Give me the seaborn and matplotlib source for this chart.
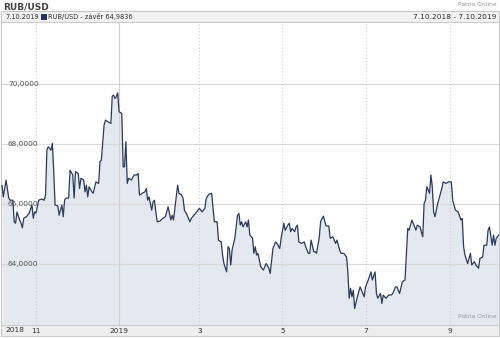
import numpy as np
import pandas as pd
import matplotlib
matplotlib.use("Agg")
import matplotlib.pyplot as plt
import matplotlib.transforms as mtransforms
from matplotlib.patches import Rectangle
import seaborn as sns

# ---------------- data ----------------
start_date = "2018-10-07"
day_offset = [0, 1, 3, 5, 6, 8, 9, 10, 11, 13, 14, 15, 16, 18, 20, 22, 23, 24, 25, 27,
              29, 31, 32, 33, 34, 36, 37, 38, 39, 41, 42, 44, 45, 46, 47, 49, 50, 52, 53, 54,
              56, 57, 58, 60, 61, 62, 63, 64, 66, 67, 69, 71, 72, 73, 75, 76, 78, 80, 81, 82,
              83, 84, 85, 86, 88, 89, 90, 91, 92, 93, 95, 97, 99, 100, 101, 103, 105, 106, 107, 108,
              110, 111, 112, 113, 114, 116, 118, 120, 122, 124, 125, 126, 127, 129, 130, 132, 133, 134, 136, 138,
              139, 141, 143, 145, 147, 149, 150, 152, 154, 155, 156, 158, 159, 161, 162, 163, 165, 166, 167, 168,
              169, 171, 173, 174, 175, 176, 177, 179, 180, 181, 182, 184, 185, 186, 187, 188, 190, 192, 194, 196,
              197, 199, 201, 202, 204, 205, 207, 208, 210, 211, 212, 213, 215, 216, 217, 218, 220, 222, 223, 225,
              226, 227, 229, 230, 231, 233, 234, 236, 238, 240, 241, 243, 245, 246, 248, 249, 251, 253, 254, 255,
              256, 257, 258, 259, 261, 263, 264, 266, 267, 269, 271, 272, 274, 275, 276, 278, 279, 280, 282, 284,
              286, 287, 289, 290, 292, 294, 296, 297, 298, 299, 301, 302, 304, 305, 307, 309, 310, 311, 312, 314,
              315, 316, 317, 318, 320, 321, 323, 324, 326, 328, 330, 331, 333, 335, 337, 338, 339, 340, 342, 344,
              345, 347, 348, 350, 351, 353, 354, 356, 357, 358, 360, 361, 362, 363, 365]
rub_usd = [66.63, 66.24, 66.80, 66.20, 66.13, 66.13, 65.41, 65.36, 65.74, 65.47, 65.37, 65.21, 65.53, 65.58, 65.70, 65.97, 65.53, 65.74, 65.70, 66.13,
           66.17, 66.13, 66.30, 67.80, 67.91, 67.80, 68.02, 67.13, 65.97, 65.94, 65.63, 65.97, 65.58, 66.13, 66.20, 66.20, 67.13, 66.97, 66.20, 67.08,
           67.02, 66.52, 66.86, 66.80, 66.41, 66.63, 66.24, 66.58, 66.41, 66.36, 66.74, 66.69, 67.41, 67.47, 68.63, 68.80, 68.74, 68.69, 69.60, 69.63,
           69.52, 69.58, 69.71, 69.08, 69.02, 67.24, 67.24, 68.08, 66.69, 66.86, 66.80, 66.97, 66.97, 67.02, 66.30, 66.36, 66.41, 66.52, 66.13, 66.24,
           65.80, 66.08, 66.13, 65.74, 65.41, 65.43, 65.52, 65.58, 65.91, 65.47, 65.63, 65.47, 65.86, 66.63, 66.36, 66.30, 66.19, 65.80, 65.63, 65.41,
           65.52, 65.63, 65.74, 65.86, 65.74, 65.86, 66.19, 66.33, 66.36, 65.86, 65.41, 65.41, 64.80, 64.74, 64.30, 64.02, 63.74, 64.58, 64.52, 63.97,
           64.47, 64.86, 65.63, 65.69, 65.30, 65.41, 65.24, 65.41, 65.24, 65.47, 64.97, 64.86, 64.36, 64.58, 64.30, 64.36, 63.91, 63.80, 64.02, 63.86,
           63.69, 64.52, 64.74, 64.69, 64.52, 64.86, 65.36, 65.13, 65.30, 65.36, 65.08, 65.19, 65.08, 65.24, 65.30, 64.74, 64.69, 64.74, 64.58, 64.36,
           64.36, 64.80, 64.41, 64.41, 64.36, 64.88, 65.42, 65.60, 65.27, 65.27, 64.86, 64.91, 64.69, 64.80, 64.47, 64.36, 64.36, 64.24, 63.74, 62.86,
           63.19, 62.91, 63.13, 62.52, 62.91, 63.24, 63.13, 62.91, 63.24, 63.47, 63.74, 63.47, 63.74, 63.02, 62.86, 63.02, 62.69, 62.97, 62.86, 62.97,
           62.97, 63.02, 63.24, 63.24, 63.02, 63.41, 63.47, 64.36, 65.19, 65.13, 65.47, 65.36, 65.13, 65.30, 65.24, 64.91, 66.02, 66.13, 66.58, 66.36,
           66.97, 66.58, 65.74, 65.58, 66.02, 66.19, 66.52, 66.74, 66.69, 66.74, 66.74, 66.13, 65.80, 65.74, 65.47, 65.52, 64.58, 64.30, 64.02, 64.36,
           63.97, 64.08, 63.97, 63.86, 64.19, 64.24, 64.63, 64.63, 65.13, 65.24, 64.63, 64.97, 64.63, 64.86, 64.98]

y_ticks = [64, 66, 68, 70]
y_tick_labels = ["64,0000", "66,0000", "68,0000", "70,0000"]
x_tick_dates = ["2018-11-01", "2019-01-01", "2019-03-01", "2019-05-01", "2019-07-01", "2019-09-01"]
x_tick_labels = ["11", "2019", "3", "5", "7", "9"]

title = "RUB/USD"
header_left = "RUB/USD - závěr 64,9836"
header_date = "7.10.2019"
header_right = "7.10.2018 - 7.10.2019"
source = "Patria Online"

# ---------------- figure ----------------
sns.set_style("white")
plt.rcParams["font.family"] = ["DejaVu Sans"]

W, H = 500, 338
fig = plt.figure(figsize=(W / 100, H / 100), dpi=100)
fig.patch.set_facecolor("white")

def px(x0, y0, x1, y1):
    # figure-fraction rect from pixel box (top-left origin)
    return [x0 / W, 1 - y1 / H, (x1 - x0) / W, (y1 - y0) / H]

ax = fig.add_axes(px(1, 22, 499, 325))
ax.set_zorder(2)

df = pd.DataFrame({
    "date": pd.Timestamp(start_date) + pd.to_timedelta(day_offset, unit="D"),
    "value": rub_usd,
})

line_col = "#2c3b5a"
fill_col = "#e4e8ef"

ax.fill_between(df["date"], df["value"], 60, color=fill_col, zorder=1, linewidth=0)
sns.lineplot(data=df, x="date", y="value", ax=ax, color=line_col, linewidth=0.9, zorder=3)

t0 = pd.Timestamp(start_date)
ax.set_xlim(t0 - pd.Timedelta(days=0.7), t0 + pd.Timedelta(days=365))
ax.set_ylim(61.97, 72.07)

# grid
for yv in y_ticks:
    ax.axhline(yv, color="#dadada", linewidth=0.8, zorder=2)
for d in x_tick_dates:
    dd = pd.Timestamp(d)
    if dd.month == 1:
        ax.axvline(dd, color="#cfcfcf", linewidth=0.8, zorder=2)
    else:
        ax.axvline(dd, color="#cfcfcf", linewidth=0.8, linestyle=(0, (1, 2)), zorder=2)

ax.set_xlabel("")
ax.set_ylabel("")
ax.set_yticks([])
ax.set_xticks([pd.Timestamp(d) for d in x_tick_dates])
ax.set_xticklabels(x_tick_labels, fontsize=5.3, color="#333333")
ax.tick_params(axis="x", length=0, pad=2.5)
for s in ax.spines.values():
    s.set_color("#cccccc")
    s.set_linewidth(0.8)

# y labels inside plot
trans = mtransforms.blended_transform_factory(ax.transAxes, ax.transData)
for yv, lab in zip(y_ticks, y_tick_labels):
    ax.text(7 / 498, yv, lab, transform=trans, fontsize=5.3, color="#555555",
            ha="left", va="center", zorder=4)

# bottom axis band
band = Rectangle((1 / W, 1 - 336 / H), 498 / W, 11 / H, transform=fig.transFigure,
                 facecolor="#eeeeee", edgecolor="#cccccc", linewidth=0.8, zorder=0)
fig.patches.append(band)
fig.text(5 / W, 1 - 330.5 / H, "2018", fontsize=5.3, color="#333333", ha="left", va="center")

# header bar
hdr = Rectangle((1 / W, 1 - 22 / H), 498 / W, 11 / H, transform=fig.transFigure,
                facecolor="#f3f3f3", edgecolor="#c8c8c8", linewidth=0.8, zorder=0)
fig.patches.append(hdr)
fig.text(5 / W, 1 - 16.8 / H, header_date, fontsize=4.8, color="#333333", ha="left", va="center")
sq = Rectangle((41 / W, 1 - 19.5 / H), 5.5 / W, 5.5 / H, transform=fig.transFigure,
               facecolor="#1f3566", edgecolor="none")
fig.patches.append(sq)
fig.text(48.5 / W, 1 - 16.8 / H, header_left, fontsize=4.8, color="#333333", ha="left", va="center")
fig.text(496 / W, 1 - 16.8 / H, header_right, fontsize=5.3, color="#333333", ha="right", va="center")

# title and sources
fig.text(3 / W, 1 - 6.5 / H, title, fontsize=6.5, fontweight="bold", color="#444444",
         ha="left", va="center")
fig.text(497 / W, 1 - 4.5 / H, source, fontsize=4.3, color="#999999", ha="right", va="center")
ax.text(496 / 498, 1 - (317 - 22) / 303, source, transform=ax.transAxes, fontsize=4.3,
        color="#999999", ha="right", va="center", zorder=4)

fig.savefig("out.png", dpi=100)
